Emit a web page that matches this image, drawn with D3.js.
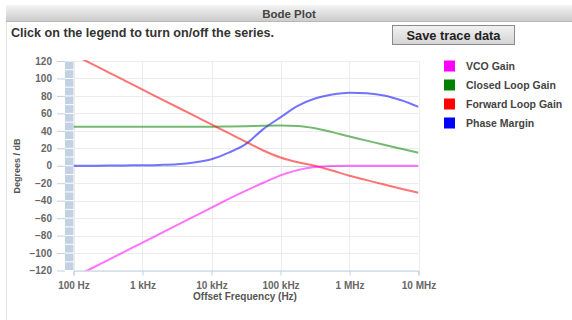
<!DOCTYPE html>
<html>
<head>
<meta charset="utf-8">
<script src="https://cdn.jsdelivr.net/npm/d3@7/dist/d3.min.js"></script>
<style>
  html, body { margin: 0; padding: 0; background: #fff; }
  svg { display: block; font-family: "Liberation Sans", Arial, Helvetica, sans-serif; }
</style>
</head>
<body>
<svg id="chart" width="572" height="320"></svg>
<script>
// Offset frequencies (Hz), quarter-decade steps from 100 Hz to 10 MHz
const frequencies = [100, 178, 316, 562, 1000, 1778, 3162, 5623, 10000, 17783, 31623, 56234,
  100000, 177828, 316228, 562341, 1000000, 1778279, 3162278, 5623413, 10000000];

// Series values in dB / degrees
const vcoGain = [-128, -118, -108, -98, -88, -78, -68, -58, -48, -38, -28.5, -19.5,
  -11, -5, -1.5, -0.3, 0, 0, 0, 0, 0];
const closedLoopGain = [44.7, 44.7, 44.7, 44.7, 44.7, 44.7, 44.7, 44.8, 44.8, 45, 45.3, 45.8,
  46, 45.6, 43, 38.5, 33.5, 28.8, 24, 19.5, 15];
const forwardLoopGain = [127.3, 117.3, 107.3, 97.3, 87.3, 77.3, 67.3, 57.3, 47.3, 37.3, 27.3, 17.5,
  9.5, 4, 0, -5.5, -11.5, -16.5, -21.5, -26.3, -31];
const phaseMargin = [0, 0.1, 0.2, 0.4, 0.6, 1, 1.8, 3.8, 7.5, 15, 25, 42,
  55.5, 68.5, 77, 81.5, 83.7, 83, 80.5, 75, 67.5];

const seriesNames = ["VCO Gain", "Closed Loop Gain", "Forward Loop Gain", "Phase Margin"];
const seriesColors = ["#ff00ff", "#008000", "#ff0000", "#0000ff"];
const seriesValues = [vcoGain, closedLoopGain, forwardLoopGain, phaseMargin];

const xTickValues = [1e2, 1e3, 1e4, 1e5, 1e6, 1e7];
const xTickLabels = ["100 Hz", "1 kHz", "10 kHz", "100 kHz", "1 MHz", "10 MHz"];
const yTickValues = [-120, -100, -80, -60, -40, -20, 0, 20, 40, 60, 80, 100, 120];

const svg = d3.select("#chart");

// ---- header bar ----
const defs = svg.append("defs");
const hdr = defs.append("linearGradient").attr("id", "hdrGrad").attr("x1", 0).attr("y1", 0).attr("x2", 0).attr("y2", 1);
hdr.append("stop").attr("offset", "0%").attr("stop-color", "#f4f4f4");
hdr.append("stop").attr("offset", "100%").attr("stop-color", "#c9c9c9");
const btn = defs.append("linearGradient").attr("id", "btnGrad").attr("x1", 0).attr("y1", 0).attr("x2", 0).attr("y2", 1);
btn.append("stop").attr("offset", "0%").attr("stop-color", "#f2f2f2");
btn.append("stop").attr("offset", "100%").attr("stop-color", "#d4d4d4");

svg.append("line").attr("x1", 6.5).attr("x2", 6.5).attr("y1", 5).attr("y2", 320)
  .attr("stroke", "#e4e4e4");
svg.append("rect").attr("x", 6).attr("y", 5).attr("width", 566).attr("height", 17)
  .attr("fill", "url(#hdrGrad)");
svg.append("line").attr("x1", 6).attr("x2", 572).attr("y1", 21.5).attr("y2", 21.5).attr("stroke", "#b8b8b8");
svg.append("text").attr("x", 289).attr("y", 17.5).attr("text-anchor", "middle")
  .attr("font-size", 11.5).attr("font-weight", "bold").attr("fill", "#444").text("Bode Plot");

svg.append("text").attr("x", 11).attr("y", 37).attr("font-size", 12.6).attr("font-weight", "bold")
  .attr("fill", "#333").text("Click on the legend to turn on/off the series.");

svg.append("rect").attr("x", 392.5).attr("y", 25.5).attr("width", 122).attr("height", 19)
  .attr("fill", "url(#btnGrad)").attr("stroke", "#8a8a8a");
svg.append("text").attr("x", 453.5).attr("y", 39.5).attr("text-anchor", "middle")
  .attr("font-size", 12.8).attr("font-weight", "bold").attr("fill", "#222").text("Save trace data");

// ---- plot area ----
const plot = { left: 73.5, right: 418.5, top: 61, bottom: 270.5 };
const x = d3.scaleLog().domain([1e2, 1e7]).range([plot.left, plot.right]);
const y = d3.scaleLinear().domain([-120, 120]).range([plot.bottom, plot.top]);

// horizontal grid
svg.append("g").selectAll("line").data(yTickValues).join("line")
  .attr("x1", plot.left).attr("x2", plot.right)
  .attr("y1", d => Math.round(y(d)) + 0.5).attr("y2", d => Math.round(y(d)) + 0.5)
  .attr("stroke", d => d === 0 ? "#c8d4e4" : "#ececec");
// vertical grid
svg.append("g").selectAll("line").data(xTickValues).join("line")
  .attr("x1", d => Math.round(x(d)) + 0.5).attr("x2", d => Math.round(x(d)) + 0.5)
  .attr("y1", plot.top).attr("y2", plot.bottom)
  .attr("stroke", "#ececec");

// striped band beside the y axis
const bandSteps = d3.range(-120, 120, 10);
svg.append("g").selectAll("rect").data(bandSteps).join("rect")
  .attr("x", 65).attr("width", 8.5)
  .attr("y", d => y(d + 10) + 0.5).attr("height", d => y(d) - y(d + 10) - 1)
  .attr("fill", "#c2d1e3");

// y axis ticks and labels
const yAxis = d3.axisLeft(y).tickValues(yTickValues).tickSize(8).tickPadding(5).tickFormat(d3.format("d"));
const yg = svg.append("g").attr("transform", "translate(65,0)").call(yAxis);
yg.select(".domain").remove();
yg.selectAll(".tick line").attr("stroke", "#c0d0e0");
yg.selectAll(".tick text").attr("font-size", 10).attr("font-weight", "bold").attr("fill", "#666")
  .attr("font-family", "Liberation Sans, Arial, sans-serif");

// x axis
const xAxis = d3.axisBottom(x).tickValues(xTickValues).tickSize(5).tickPadding(6)
  .tickFormat((d, i) => xTickLabels[i]);
const xg = svg.append("g").attr("transform", `translate(0,${plot.bottom})`).call(xAxis);
xg.select(".domain").attr("stroke", "#c0d0e0");
xg.selectAll(".tick line").attr("stroke", "#c0d0e0");
xg.selectAll(".tick text").attr("font-size", 10).attr("font-weight", "bold").attr("fill", "#666")
  .attr("font-family", "Liberation Sans, Arial, sans-serif");

// axis titles
svg.append("text").attr("x", 245).attr("y", 300).attr("text-anchor", "middle")
  .attr("font-size", 10).attr("font-weight", "bold").attr("fill", "#555").text("Offset Frequency (Hz)");
svg.append("text").attr("transform", "translate(20,166) rotate(-90)").attr("text-anchor", "middle")
  .attr("font-size", 9).attr("font-weight", "bold").attr("fill", "#555").text("Degrees / dB");

// series lines, clipped to the plot area
defs.append("clipPath").attr("id", "plotClip").append("rect")
  .attr("x", plot.left).attr("y", plot.top - 1).attr("width", plot.right - plot.left)
  .attr("height", plot.bottom - plot.top + 1);
const line = d3.line().x((d, i) => x(frequencies[i])).y(d => y(d)).curve(d3.curveMonotoneX);
const lines = svg.append("g").attr("clip-path", "url(#plotClip)");
// drawing order: phase first, then gains
[3, 1, 2, 0].forEach(k => {
  lines.append("path").datum(seriesValues[k]).attr("d", line)
    .attr("fill", "none").attr("stroke", seriesColors[k]).attr("stroke-opacity", 0.55)
    .attr("stroke-width", 2);
});

// legend
const legend = svg.append("g");
seriesNames.forEach((name, i) => {
  const cy = 66 + i * 19;
  legend.append("rect").attr("x", 444).attr("y", cy - 5.5).attr("width", 11).attr("height", 11)
    .attr("fill", seriesColors[i]);
  legend.append("text").attr("x", 466).attr("y", cy + 3.5).attr("font-size", 10.5)
    .attr("font-weight", "bold").attr("fill", "#444").text(name);
});
</script>
</body>
</html>
